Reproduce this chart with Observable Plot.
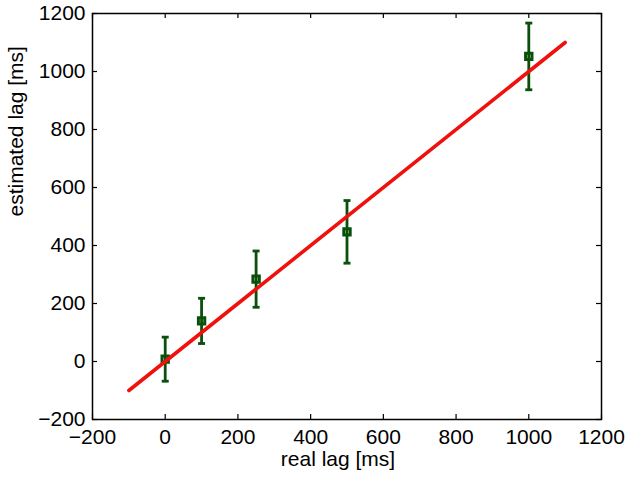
<!DOCTYPE html>
<html>
<head>
<meta charset="utf-8">
<script src="https://cdn.jsdelivr.net/npm/d3@7"></script>
<script src="https://cdn.jsdelivr.net/npm/@observablehq/plot@0.6"></script>
<style>
  html, body { margin: 0; padding: 0; background: #fff; }
</style>
</head>
<body>
<div id="chart"></div>
<script>
// ---- data ----
const realLag = [0, 100, 250, 500, 1000];
const estimatedLag = [8, 140, 284, 447, 1052];
const errorHalf = [76, 78, 97, 108, 115];
const fitX = [-100, 1100];
const fitY = [-100, 1100];
const xTicks = [-200, 0, 200, 400, 600, 800, 1000, 1200];
const yTicks = [-200, 0, 200, 400, 600, 800, 1000, 1200];

const points = realLag.map((x, i) => ({x, y: estimatedLag[i], lo: estimatedLag[i] - errorHalf[i], hi: estimatedLag[i] + errorHalf[i]}));
const fit = fitX.map((x, i) => ({x, y: fitY[i]}));

const W = 630, H = 481;
const mL = 92, mR = 29, mT = 13, mB = 62;
const pw = W - mL - mR, ph = H - mT - mB;
const green = "#0a500a";
const red = "#f0100c";
const font = "'Liberation Sans', Arial, sans-serif";
const fs = 21;
const fmt = d => (d < 0 ? "\u2212" + Math.abs(d) : String(d));

const capSymbol = {
  draw(ctx, size) {
    const r = Math.sqrt(size / Math.PI);
    ctx.moveTo(-r, 0);
    ctx.lineTo(r, 0);
  }
};

const chart = Plot.plot({
  width: W,
  height: H,
  marginLeft: mL,
  marginRight: mR,
  marginTop: mT,
  marginBottom: mB,
  style: {fontFamily: font, fontSize: fs + "px", background: "#fff", color: "#000"},
  x: {domain: [-200, 1200], ticks: xTicks},
  y: {domain: [-200, 1200], ticks: yTicks},
  marks: [
    Plot.axisX(xTicks, {anchor: "bottom", tickSize: 0, tickPadding: 10, label: null, fontSize: fs, tickFormat: fmt}),
    Plot.axisY(yTicks, {anchor: "left", tickSize: 0, tickPadding: 7, label: null, fontSize: fs, tickFormat: fmt}),
    // inward ticks on all four sides
    Plot.tickX(xTicks, {x: d => d, insetTop: ph - 5, stroke: "#000", strokeWidth: 1.2}),
    Plot.tickX(xTicks, {x: d => d, insetBottom: ph - 5, stroke: "#000", strokeWidth: 1.2}),
    Plot.tickY(yTicks, {y: d => d, insetRight: pw - 5, stroke: "#000", strokeWidth: 1.2}),
    Plot.tickY(yTicks, {y: d => d, insetLeft: pw - 5, stroke: "#000", strokeWidth: 1.2}),
    Plot.frame({stroke: "#000", strokeWidth: 1.5}),
    // error bars
    Plot.ruleX(points, {x: "x", y1: "lo", y2: "hi", stroke: green, strokeWidth: 2.8}),
    Plot.dot(points, {x: "x", y: "lo", symbol: capSymbol, r: 3.5, stroke: green, strokeWidth: 2.8, fill: "none"}),
    Plot.dot(points, {x: "x", y: "hi", symbol: capSymbol, r: 3.5, stroke: green, strokeWidth: 2.8, fill: "none"}),
    Plot.dot(points, {x: "x", y: "y", symbol: "square", r: 3.6, stroke: green, strokeWidth: 3, fill: "none"}),
    // fit line
    Plot.line(fit, {x: "x", y: "y", stroke: red, strokeWidth: 3.6}),
    // axis labels
    Plot.text(["real lag [ms]"], {frameAnchor: "bottom", dy: 46, dx: -9, text: d => d, fontSize: fs, fill: "#000"}),
    Plot.text(["estimated lag [ms]"], {frameAnchor: "left", dx: -76, rotate: -90, text: d => d, fontSize: fs, fill: "#000"})
  ]
});

document.getElementById("chart").appendChild(chart);
</script>
</body>
</html>
